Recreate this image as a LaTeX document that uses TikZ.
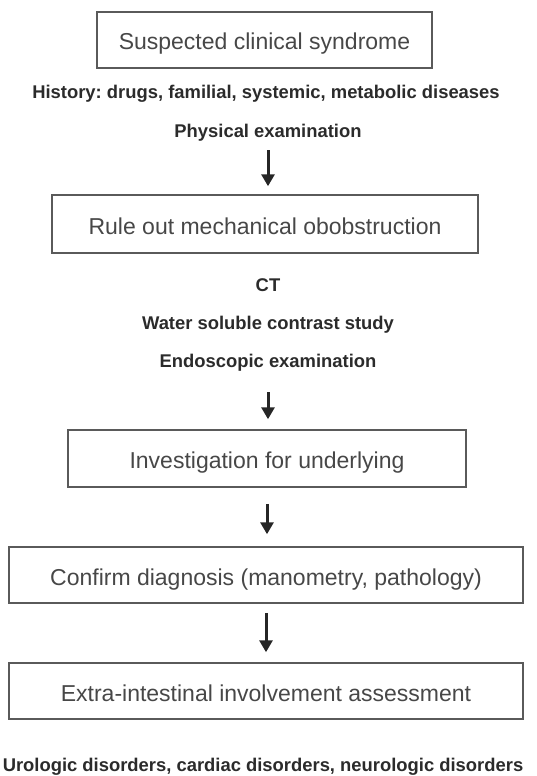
\documentclass[tikz,border=0pt]{standalone}
\usepackage{fontspec}
\setmainfont{Liberation Sans}
\frenchspacing
\usetikzlibrary{arrows.meta}
\definecolor{boxline}{HTML}{5A5A5A}
\definecolor{boxtext}{HTML}{474747}
\definecolor{notetext}{HTML}{2B2B2B}
\tikzset{
    stage/.style={draw=boxline, line width=1.5pt, text=boxtext, inner sep=0pt,
        font=\fontsize{23}{27}\selectfont, text height=20pt, text depth=0pt},
    note/.style={anchor=base, text=notetext, inner sep=0pt,
        font=\bfseries\fontsize{18.4}{22}\selectfont},
    flow/.style={->, line width=3pt, draw=black!85},
}
\begin{document}
\begin{tikzpicture}[x=1pt, y=-1pt, >={Triangle[width=13pt,length=12pt]}]
\useasboundingbox (0,0) rectangle (536,776);

\node[stage, minimum width=335pt, minimum height=56pt] (suspect) at (264.5,40) {Suspected clinical syndrome};
\node[note] (history) at (266,99) {History: drugs, familial, systemic, metabolic diseases};
\node[note] (phys) at (268,137) {Physical examination};

\node[stage, minimum width=426pt, minimum height=58pt] (rule) at (265,224) {Rule out mechanical obobstruction};
\foreach \n/\y/\t in {ct/291/CT, water/329/Water soluble contrast study, endo/367/Endoscopic examination}
{
    \node[note] (\n) at (268,\y) {\t};
}

\node[stage, minimum width=398pt, minimum height=57pt] (invest) at (267,458.5) {Investigation for underlying};
\node[stage, minimum width=514pt, minimum height=56pt] (confirm) at (266,575) {Confirm diagnosis (manometry, pathology)};
\node[stage, minimum width=514pt, minimum height=56pt] (extra) at (266,691) {Extra-intestinal involvement assessment};
\node[note] (organs) at (263,771) {Urologic disorders, cardiac disorders, neurologic disorders};

\foreach \a/\b/\s/\e in {phys/rule/9/8, endo/invest/21/10, invest/confirm/16/12, confirm/extra/9/10}
{
    \draw[flow, shorten <=\s pt, shorten >=\e pt](\a.south)--(\a.south |- \b.north);
}
\end{tikzpicture}
\end{document}
